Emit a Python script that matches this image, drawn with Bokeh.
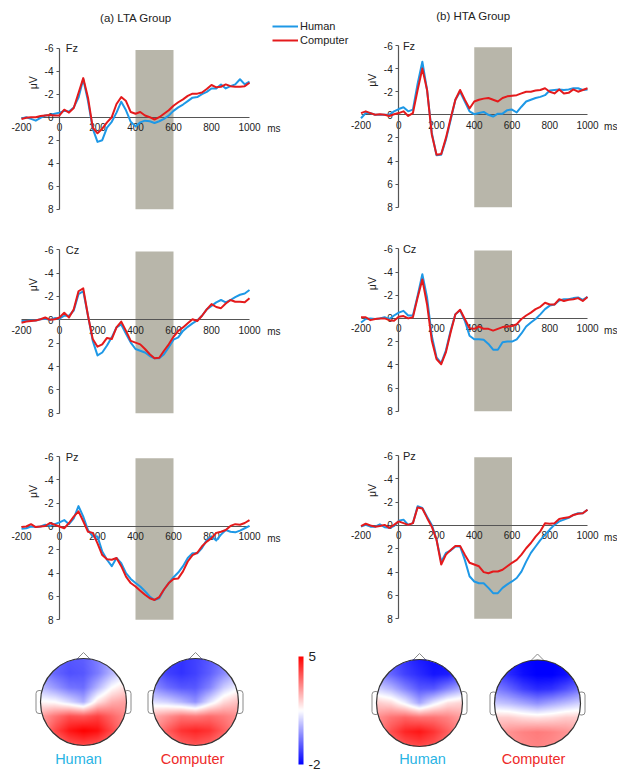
import numpy as np
from bokeh.plotting import figure
from bokeh.models import (Range1d, LinearAxis, FixedTicker, Legend, LegendItem,
                          LinearColorMapper, ColorBar)
from bokeh.core.properties import value
from bokeh.embed import file_html
from bokeh.resources import INLINE

# ---------------- data ----------------
t_ms = list(range(-200, 1001, 25))
x_ticks = [-200, 0, 200, 400, 600, 800, 1000]
y_ticks = [-6, -4, -2, 0, 2, 4, 6, 8]
window_ms = [400, 600]
groups = ["(a) LTA Group", "(b) HTA Group"]
sites = ["Fz", "Cz", "Pz"]
conditions = ["Human", "Computer"]

lta_fz_human = [0.1, 0.0, 0.15, 0.3, 0.05, -0.15, -0.2, -0.3,
                -0.4, -0.55, -0.5, -0.85, -1.7, -3.3, -1.4, 1.0,
                2.15, 2.0, 0.9, 0.4, -0.4, -1.35, -0.6, 0.4,
                0.8, 0.45, 0.3, 0.35, 0.5, 0.35, 0.15, -0.15,
                -0.55, -0.85, -1.1, -1.4, -1.7, -1.75, -2.0, -2.2,
                -2.5, -2.5, -2.85, -2.5, -2.7, -2.85, -3.3, -2.85, -3.1]
lta_fz_computer = [0.15, 0.05, 0.0, 0.0, -0.1, -0.15, -0.2, -0.15,
                   -0.15, -0.65, -0.4, -0.8, -2.1, -3.4, -1.7, 0.9,
                   1.4, 1.0, 0.45, 0.0, -1.15, -1.75, -1.4, -0.45,
                   -0.3, -0.45, -0.15, 0.0, 0.2, 0.0, -0.3, -0.6,
                   -1.0, -1.3, -1.55, -1.85, -2.05, -2.05, -2.15, -2.45,
                   -2.8, -2.6, -2.65, -2.85, -2.7, -2.65, -2.65, -2.7, -3.0]
lta_cz_human = [0.1, 0.1, 0.05, 0.05, -0.05, -0.1, 0.0, -0.15,
                -0.1, -0.35, -0.35, -0.8, -2.2, -2.45, -0.35, 1.8,
                3.05, 2.8, 2.2, 1.5, 0.65, 0.4, 1.2, 1.95,
                2.5, 2.65, 2.8, 3.1, 3.3, 3.3, 2.95, 2.35,
                1.7, 1.5, 0.95, 0.6, 0.3, 0.05, -0.35, -0.9,
                -1.2, -1.5, -1.7, -1.5, -1.7, -1.95, -2.15, -2.25, -2.55]
lta_cz_computer = [0.25, 0.15, 0.1, 0.05, -0.05, -0.2, 0.0, -0.05,
                   -0.2, -0.6, -0.2, -0.9, -2.45, -2.7, -0.35, 1.65,
                   2.3, 2.1, 1.55, 1.65, 0.65, 0.15, 0.95, 1.8,
                   1.95, 2.1, 2.5, 2.95, 3.3, 3.25, 2.65, 2.1,
                   1.45, 0.95, 0.65, 0.3, -0.05, 0.1, -0.35, -0.9,
                   -1.35, -1.1, -1.0, -1.4, -1.7, -1.55, -1.55, -1.5, -1.85]
lta_pz_human = [0.2, 0.15, 0.0, 0.05, 0.0, -0.15, -0.05, -0.2,
                -0.35, -0.55, -0.2, -0.7, -1.75, -0.85, 0.3, 0.85,
                0.85, 2.15, 2.85, 3.4, 2.7, 3.15, 4.0, 4.5,
                4.85, 5.15, 5.55, 6.0, 6.3, 6.15, 5.4, 4.85,
                4.35, 3.95, 3.4, 2.7, 2.3, 2.3, 1.85, 1.15,
                0.85, 1.2, 0.7, 0.3, 0.45, 0.5, 0.35, 0.15, -0.05]
lta_pz_computer = [0.05, 0.0, -0.2, 0.05, 0.0, -0.05, -0.3, -0.15,
                   0.0, 0.15, -0.3, -0.85, -1.3, -0.45, 0.45, 0.55,
                   1.45, 2.45, 2.8, 2.85, 2.7, 3.4, 4.3, 4.85,
                   5.15, 5.5, 5.85, 6.15, 6.3, 6.05, 5.4, 4.85,
                   4.5, 4.45, 3.85, 3.0, 2.45, 2.25, 1.7, 1.3,
                   1.0, 0.55, 0.45, 0.3, -0.05, -0.2, -0.15, -0.3, -0.55]
hta_fz_human = [0.3, -0.15, -0.15, 0.0, 0.0, 0.0, 0.0, -0.3,
                -0.5, -0.65, -0.3, -0.45, -2.7, -4.6, -2.15, 1.55,
                3.5, 3.45, 2.15, 0.45, -1.3, -2.0, -1.15, -0.3,
                -0.05, -0.15, -0.25, 0.0, 0.15, -0.1, -0.1, -0.4,
                -0.45, -0.2, -0.7, -1.15, -1.3, -1.45, -1.55, -1.7,
                -2.1, -2.15, -2.2, -2.15, -2.2, -2.3, -2.3, -2.15, -2.2]
hta_fz_computer = [-0.15, -0.3, -0.15, 0.0, -0.05, 0.0, 0.1, -0.05,
                   -0.15, -0.3, 0.1, -0.15, -2.15, -4.0, -2.15, 1.7,
                   3.45, 3.4, 2.0, 0.3, -1.3, -2.15, -1.3, -0.55,
                   -1.15, -1.3, -1.4, -1.45, -1.3, -1.15, -1.45, -1.6,
                   -1.65, -1.7, -1.85, -2.0, -2.0, -2.1, -2.15, -2.3,
                   -2.0, -1.85, -2.2, -1.85, -1.9, -2.2, -2.0, -2.15, -2.3]
hta_cz_human = [0.35, 0.05, 0.0, 0.05, 0.0, -0.1, 0.05, -0.25,
                -0.5, -0.65, -0.25, -0.25, -1.95, -3.8, -1.8, 1.5,
                3.35, 3.85, 2.75, 1.05, -0.35, -0.7, 0.2, 1.5,
                1.8, 1.8, 1.85, 2.2, 2.7, 2.7, 2.05, 2.0,
                2.0, 1.8, 1.3, 0.7, 0.35, 0.05, -0.35, -0.8,
                -1.1, -1.2, -1.55, -1.65, -1.65, -1.75, -1.8, -1.6, -1.85]
hta_cz_computer = [-0.1, -0.1, 0.15, 0.05, 0.0, 0.0, 0.15, 0.2,
                   -0.15, -0.2, 0.0, -0.1, -1.8, -3.35, -1.2, 1.9,
                   3.5, 3.95, 2.9, 1.2, -0.35, -0.75, 0.05, 0.85,
                   0.9, 0.7, 0.9, 0.9, 1.05, 0.9, 0.75, 0.7,
                   0.65, 0.5, 0.05, -0.25, -0.5, -0.8, -1.0, -1.35,
                   -1.2, -1.2, -1.65, -1.5, -1.6, -1.65, -1.75, -1.5, -1.85]
hta_pz_human = [0.1, -0.05, 0.1, 0.1, -0.1, 0.15, 0.2, 0.05,
                -0.4, -0.5, -0.05, -0.2, -1.65, -1.5, -0.75, -0.05,
                1.2, 3.1, 2.35, 2.15, 1.8, 1.8, 2.95, 4.35,
                4.8, 4.95, 4.95, 5.35, 5.8, 5.8, 5.35, 5.05,
                4.8, 4.5, 3.95, 3.1, 2.35, 1.8, 1.25, 0.8,
                0.35, -0.05, -0.35, -0.5, -0.65, -0.9, -1.05, -1.05, -1.35]
hta_pz_computer = [0.05, -0.15, 0.0, 0.1, 0.05, -0.05, 0.2, -0.05,
                   -0.35, -0.2, -0.05, -0.2, -1.55, -1.45, -0.65, 0.1,
                   1.2, 3.35, 2.5, 2.1, 1.75, 1.75, 2.5, 3.2,
                   3.35, 3.5, 4.0, 4.1, 3.95, 3.95, 3.8, 3.5,
                   3.2, 2.95, 2.5, 1.95, 1.5, 0.95, 0.5, -0.2,
                   -0.15, -0.2, -0.55, -0.65, -0.7, -0.9, -1.0, -1.05, -1.35]

# topographic maps (uV, 400-600 ms), grid rows front->back, cols left->right
topo_labels = ["Human", "Computer", "Human", "Computer"]
topo_lta_human = [[-0.3, -0.6, -0.8, -0.7, -0.3, 0.3, 0.8],
                  [-0.1, -0.6, -0.9, -0.8, -0.3, 0.5, 1.2],
                  [0.6, 0.1, -0.4, -0.5, 0.5, 1.5, 2.0],
                  [1.6, 1.5, 1.0, 0.4, 1.9, 2.6, 2.8],
                  [2.8, 3.4, 3.9, 3.8, 4.1, 3.6, 3.1],
                  [3.0, 4.0, 4.7, 5.0, 4.8, 4.0, 3.1],
                  [2.6, 3.3, 3.8, 4.0, 3.8, 3.3, 2.6]]
topo_lta_computer = [[-0.8, -1.2, -1.3, -1.1, -0.8, -0.4, 0.0],
                     [-0.6, -1.1, -1.3, -1.1, -0.7, -0.1, 0.5],
                     [0.0, -0.5, -0.8, -0.8, -0.2, 0.8, 1.4],
                     [1.1, 0.9, 0.5, 0.0, 1.1, 2.0, 2.4],
                     [2.6, 3.0, 3.4, 3.3, 3.5, 3.3, 3.0],
                     [2.9, 3.7, 4.3, 4.5, 4.3, 3.7, 3.0],
                     [2.5, 3.1, 3.6, 3.8, 3.6, 3.1, 2.5]]
topo_hta_human = [[-0.5, -0.9, -1.3, -1.6, -1.8, -1.8, -1.4],
                  [-0.1, -0.6, -1.1, -1.4, -1.7, -1.6, -1.1],
                  [0.9, 0.5, -0.2, -0.8, -0.8, -0.2, 0.4],
                  [2.2, 2.0, 1.3, 0.3, 1.2, 1.9, 2.1],
                  [3.0, 3.4, 3.6, 3.4, 3.4, 3.2, 2.8],
                  [3.1, 3.9, 4.5, 4.7, 4.3, 3.7, 3.1],
                  [2.7, 3.4, 3.8, 4.0, 3.8, 3.3, 2.7]]
topo_hta_computer = [[-1.2, -1.6, -1.9, -2.0, -2.0, -1.9, -1.6],
                     [-0.9, -1.4, -1.8, -2.0, -2.0, -1.8, -1.4],
                     [-0.2, -0.6, -1.1, -1.4, -1.3, -0.9, -0.4],
                     [0.8, 0.6, 0.3, 0.0, 0.3, 0.6, 0.9],
                     [2.2, 2.2, 2.0, 1.9, 2.0, 2.2, 2.2],
                     [2.7, 3.0, 3.2, 3.3, 3.2, 3.0, 2.7],
                     [2.6, 2.9, 3.1, 3.2, 3.1, 2.9, 2.6]]
scale_low, scale_high = -2, 5

# ---------------- layout / style ----------------
W, H = 617, 775
BLUE, RED = "#1e98e6", "#e41a1c"
GRAY = "#b8b6aa"
FONT = "Liberation Sans"

def xr(px_a, px_b, a=-200, b=1000):
    k = (px_b - px_a) / (b - a)
    start = a - px_a / k
    return Range1d(start, start + W / k)

def yr(s_a, s_b, a=-6, b=8):
    k = (s_b - s_a) / (b - a)
    return Range1d(a + (H - s_a) / k, a - s_a / k)

p = figure(width=W, height=H, x_range=Range1d(0, W), y_range=Range1d(0, H),
           x_axis_type=None, y_axis_type=None, toolbar_location=None,
           output_backend="svg", min_border=0, outline_line_color=None)
p.background_fill_color = "white"
p.extra_x_ranges = {"L": xr(21, 249), "R": xr(360.5, 587)}
p.extra_y_ranges = {"fzL": yr(47.7, 208.7), "fzR": yr(45, 206.7),
                    "czL": yr(249.3, 412.7), "czR": yr(248.3, 410.7),
                    "pzL": yr(456, 619.3), "pzR": yr(455, 618.3)}

panels = [("L", "fzL", "Fz", lta_fz_human, lta_fz_computer),
          ("L", "czL", "Cz", lta_cz_human, lta_cz_computer),
          ("L", "pzL", "Pz", lta_pz_human, lta_pz_computer),
          ("R", "fzR", "Fz", hta_fz_human, hta_fz_computer),
          ("R", "czR", "Cz", hta_cz_human, hta_cz_computer),
          ("R", "pzR", "Pz", hta_pz_human, hta_pz_computer)]

x_over = {v: str(v) for v in x_ticks}
y_over = {v: str(v) for v in y_ticks}

legend_renderers = None
for xn, yn, site, hum, com in panels:
    p.quad(left=[window_ms[0]], right=[window_ms[1]], top=[-5.85], bottom=[y_ticks[-1]],
           fill_color=GRAY, line_color=None, x_range_name=xn, y_range_name=yn)
    xa = LinearAxis(x_range_name=xn, y_range_name=yn, fixed_location=0,
                    ticker=FixedTicker(ticks=x_ticks), bounds=(x_ticks[0], x_ticks[-1]),
                    major_tick_in=0, major_tick_out=0, minor_tick_in=0, minor_tick_out=0,
                    axis_line_color="#555555", axis_line_width=1.2,
                    major_label_overrides=x_over,
                    major_label_standoff=6, major_label_text_font_size="10px",
                    major_label_text_font=FONT, major_label_text_color="#222222")
    p.add_layout(xa, "below")
    ya = LinearAxis(x_range_name=xn, y_range_name=yn, fixed_location=0,
                    ticker=FixedTicker(ticks=y_ticks), bounds=(y_ticks[0], y_ticks[-1]),
                    major_tick_in=0, major_tick_out=3, minor_tick_in=0, minor_tick_out=0,
                    axis_line_color="#555555", axis_line_width=1.2,
                    major_tick_line_color="#555555", major_label_overrides=y_over,
                    major_label_standoff=3, major_label_text_font_size="10px",
                    major_label_text_font=FONT, major_label_text_color="#222222")
    p.add_layout(ya, "left")
    rh = p.line(t_ms, hum, line_color=BLUE, line_width=2, line_join="round",
                x_range_name=xn, y_range_name=yn, level="overlay")
    rc = p.line(t_ms, com, line_color=RED, line_width=2, line_join="round",
                x_range_name=xn, y_range_name=yn, level="overlay")
    if legend_renderers is None:
        legend_renderers = (rh, rc)
    p.text(x=[33 if xn == "L" else 22], y=[-6], text=[site], text_align="left",
           text_baseline="middle", text_font=value(FONT), text_font_size="11px",
           text_color="#222222", x_range_name=xn, y_range_name=yn)
    p.text(x=[-140], y=[-3], text=["\u03bcV"], angle=np.pi / 2, text_align="center",
           text_baseline="middle", text_font=value(FONT), text_font_size="10.5px",
           text_color="#222222", x_range_name=xn, y_range_name=yn)
    p.text(x=[1093 if xn == "L" else 1088], y=[1.0], text=["ms"], text_align="left",
           text_baseline="middle", text_font=value(FONT), text_font_size="10px",
           text_color="#222222", x_range_name=xn, y_range_name=yn)

# group titles
p.text(x=[135.5, 473], y=[H - 17, H - 15.5], text=groups, text_align="center",
       text_baseline="middle", text_font=value(FONT), text_font_size="11.5px",
       text_color="#222222")

legend = Legend(items=[LegendItem(label=conditions[0], renderers=[legend_renderers[0]]),
                       LegendItem(label=conditions[1], renderers=[legend_renderers[1]])],
                location=(272, H - 47), orientation="vertical", glyph_width=26,
                glyph_height=14, label_height=14, spacing=0, padding=0, margin=0,
                label_standoff=2, border_line_color=None, background_fill_alpha=0,
                label_text_font_size="11px", label_text_font=FONT,
                label_text_color="#222222")
p.add_layout(legend)

# ---------------- topographic maps ----------------
def blend(f):
    if f < 0.5:
        v = int(round(255 * f / 0.5))
        return "#%02x%02x%02x" % (v, v, 255)
    v = int(round(255 * (1 - f) / 0.5))
    return "#%02x%02x%02x" % (255, v, v)

palette = [blend(i / 255) for i in range(256)]
mapper = LinearColorMapper(palette=palette, low=scale_low, high=scale_high,
                           nan_color=(0, 0, 0, 0))

def upsample(G, nx, ny):
    G = np.asarray(G, float)
    r, c = G.shape
    xs = np.linspace(0, c - 1, nx)
    ys = np.linspace(0, r - 1, ny)
    tmp = np.array([np.interp(xs, np.arange(c), row) for row in G])
    return np.array([np.interp(ys, np.arange(r), tmp[:, j]) for j in range(nx)]).T

head_centers = [(83, 701.5), (195, 701.5), (419, 702.5), (537, 703)]
rx, ry = 43, 43.5
grids = [topo_lta_human, topo_lta_computer, topo_hta_human, topo_hta_computer]
label_pos = [78, 192, 422, 533]
label_cols = ["#29b4e4", "#ee2a2a", "#29b4e4", "#ee2a2a"]

for (cx, cyd), G in zip(head_centers, grids):
    cy = H - cyd
    try:
        p.rect(x=[cx - rx - 1, cx + rx + 1], y=[cy, cy], width=7, height=23,
               fill_color="white", line_color="#8a8a8a", line_width=1, border_radius=3)
    except Exception:
        p.rect(x=[cx - rx - 1, cx + rx + 1], y=[cy, cy], width=7, height=23,
               fill_color="white", line_color="#8a8a8a", line_width=1)
    top = cy + ry
    p.patch(x=[cx - 7, cx, cx + 7], y=[top - 1, top + 6, top - 1],
            fill_color="white", line_color="#8a8a8a", line_width=1)
    nx, ny = int(2 * rx), int(2 * ry)
    field = upsample(G, nx, ny)
    u = (np.arange(nx) + 0.5) / nx - 0.5
    v = (np.arange(ny) + 0.5) / ny - 0.5
    U, V = np.meshgrid(u, v)
    field[(U / 0.5) ** 2 + (V / 0.5) ** 2 > 1.0] = np.nan
    p.image(image=[field[::-1]], x=cx - rx, y=cy - ry, dw=2 * rx, dh=2 * ry,
            color_mapper=mapper)
    p.ellipse(x=[cx], y=[cy], width=2 * rx, height=2 * ry, fill_color=None,
              line_color="#333333", line_width=1.2)

p.text(x=label_pos, y=[H - 758] * 4, text=topo_labels, text_align="center",
       text_baseline="middle", text_font=value(FONT), text_font_size="14.5px",
       text_color=label_cols)

cb = ColorBar(color_mapper=mapper, ticker=FixedTicker(ticks=[scale_low, scale_high]),
              major_label_overrides={scale_low: str(scale_low), scale_high: str(scale_high)},
              width=5, height=108, location=(298, 11), padding=0, margin=0,
              major_tick_line_color=None, minor_tick_line_color=None,
              bar_line_color=None, border_line_color=None, background_fill_alpha=0,
              major_label_text_font_size="13.5px", major_label_text_font=FONT,
              major_label_text_color="#222222", label_standoff=5)
p.add_layout(cb)

open("out.html", "w").write(file_html(p, INLINE))
